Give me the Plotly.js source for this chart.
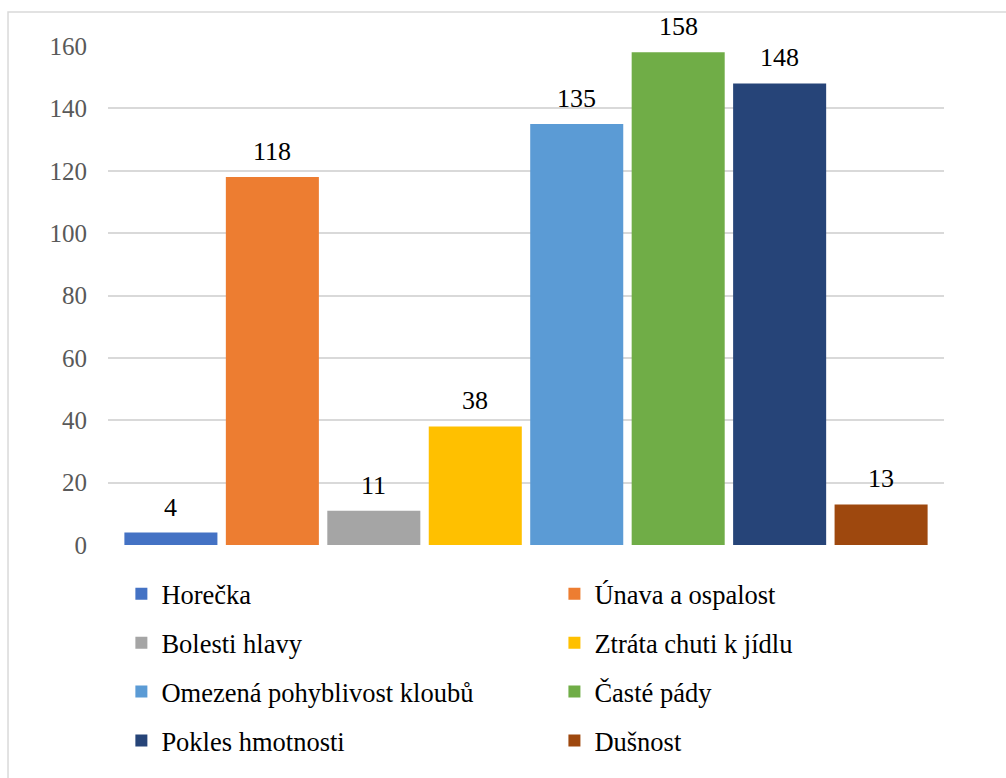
<!DOCTYPE html>
<html>
<head>
<meta charset="utf-8">
<script src="https://cdn.plot.ly/plotly-3.0.1.min.js"></script>
<style>
html,body{margin:0;padding:0;background:#fff;}
#chart{width:1006px;height:778px;}
</style>
</head>
<body>
<div id="chart"></div>
<script>
var categories = ["Horečka","Únava a ospalost","Bolesti hlavy","Ztráta chuti k jídlu","Omezená pohyblivost kloubů","Časté pády","Pokles hmotnosti","Dušnost"];
var values = [4,118,11,38,135,158,148,13];
var colors = ["#4472C4","#ED7D31","#A5A5A5","#FFC000","#5B9BD5","#70AD47","#264478","#9E480E"];
var yTicks = [0,20,40,60,80,100,120,140,160];

var FONT = "'Times New Roman', 'Liberation Serif', Times, serif";

var traces = categories.map(function(name, i){
  return {
    type: "bar",
    name: name,
    x: [name],
    y: [values[i]],
    marker: {color: colors[i], line: {width: 0}},
    legend: (i % 2 === 0) ? "legend" : "legend2",
    legendgroup: "g" + i,
    hoverinfo: "name+y"
  };
});

var annotations = categories.map(function(name, i){
  return {
    x: name, y: values[i], xref: "x", yref: "y",
    text: String(values[i]), showarrow: false,
    yanchor: "bottom", yshift: 9,
    font: {family: FONT, size: 26, color: "#000000"}
  };
});

var legendCommon = {
  orientation: "v",
  yanchor: "top",
  xanchor: "left",
  font: {family: FONT, size: 26.5, color: "#000000"},
  tracegroupgap: 11.5,
  bgcolor: "rgba(0,0,0,0)",
  borderwidth: 0,
  itemclick: false,
  itemdoubleclick: false
};

var layout = {
  width: 1006,
  height: 778,
  margin: {l: 108, r: 62, t: 46, b: 233},
  paper_bgcolor: "#ffffff",
  plot_bgcolor: "#ffffff",
  font: {family: FONT, color: "#595959"},
  barmode: "relative",
  bargap: 0.083,
  showlegend: true,
  xaxis: {
    type: "category",
    categoryarray: categories,
    categoryorder: "array",
    range: [-0.62, 7.62],
    showticklabels: false,
    showgrid: false,
    zeroline: false,
    showline: false,
    ticks: "",
    fixedrange: true
  },
  yaxis: {
    range: [0, 160],
    tickvals: yTicks,
    ticktext: yTicks.map(String),
    tickfont: {family: FONT, size: 25, color: "#595959"},
    showgrid: true,
    gridcolor: "#d9d9d9",
    gridwidth: 1.5,
    zeroline: false,
    showline: false,
    ticks: "",
    ticklabelstandoff: 20,
    fixedrange: true
  },
  legend: Object.assign({}, legendCommon, {x: 0.016, y: -0.05}),
  legend2: Object.assign({}, legendCommon, {x: 0.534, y: -0.05}),
  annotations: annotations,
  shapes: [{
    type: "rect", xref: "paper", yref: "paper",
    x0: -0.1196, x1: 1.2, y0: -0.6, y1: 1.0682,
    line: {color: "#d9d9d9", width: 1.5},
    fillcolor: "rgba(0,0,0,0)",
    layer: "below"
  }]
};

Plotly.newPlot("chart", traces, layout, {displayModeBar: false, staticPlot: false});
</script>
</body>
</html>
